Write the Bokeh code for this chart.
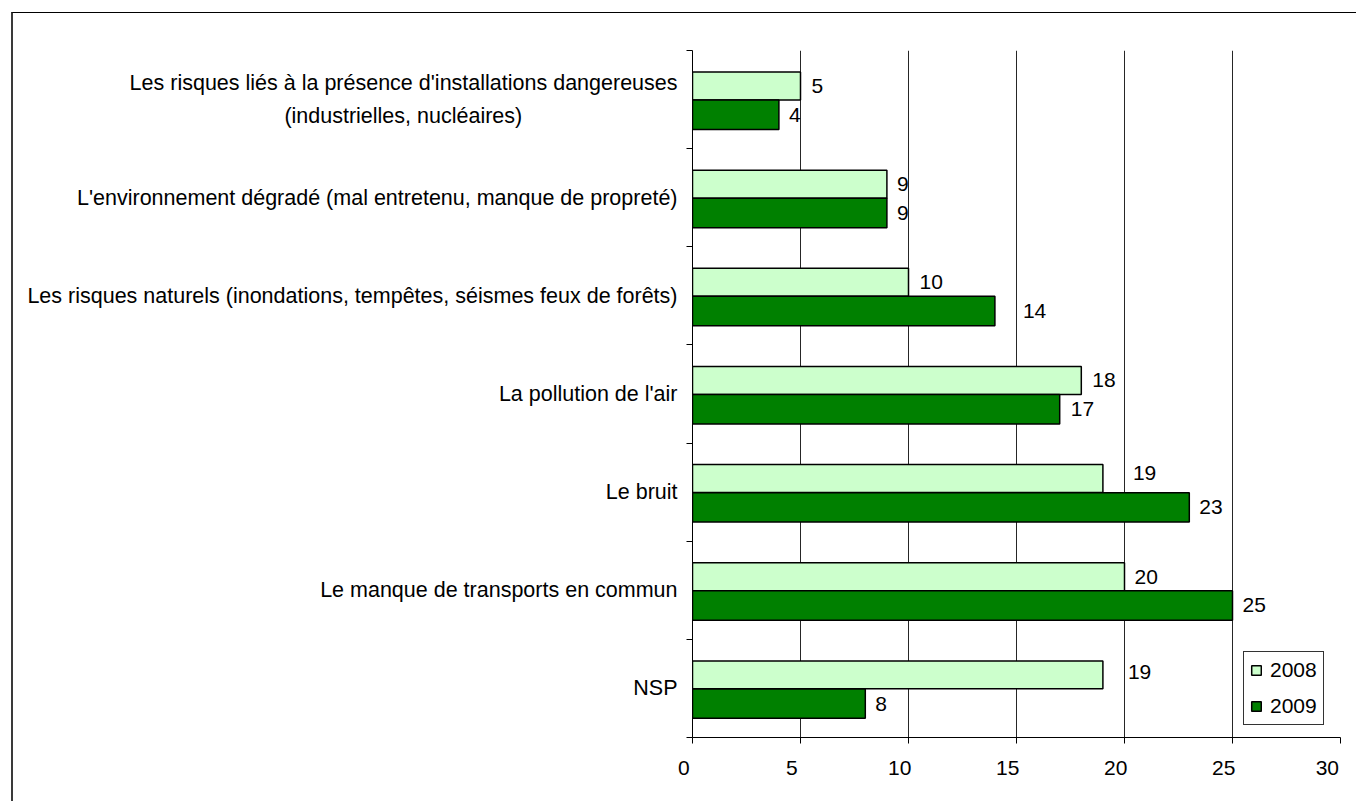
from bokeh.plotting import figure
from bokeh.models import (ColumnDataSource, FactorRange, Range1d, LinearAxis, CategoricalAxis,
                          FixedTicker, Legend, LegendItem, CustomLabelingPolicy)
from bokeh.transform import dodge
from bokeh.core.properties import value
from bokeh.embed import file_html
from bokeh.resources import INLINE

# ---------------- data ----------------
categories = [
    "Les risques liés à la présence d'installations dangereuses\n(industrielles, nucléaires)",
    "L'environnement dégradé (mal entretenu, manque de propreté)",
    "Les risques naturels (inondations, tempêtes, séismes feux de forêts)",
    "La pollution de l'air",
    "Le bruit",
    "Le manque de transports en commun",
    "NSP",
]
values_2008 = [5, 9, 10, 18, 19, 20, 19]
values_2009 = [4, 9, 14, 17, 23, 25, 8]
years = ["2008", "2009"]
x_ticks = [0, 5, 10, 15, 20, 25, 30]

# label placement styling (screen px)
dx_2008 = [11, 10, 11, 11, 30, 10, 25]
dy_2008 = [0, 0, 0, 0, -6, 0, -3]
dx_2009 = [10, 10, 28, 11, 10, 10, 10]
dy_2009 = [0, 0, 0, 0, 0, 0, 0]

FONT = "Liberation Sans"
LIGHT = "#CCFFCC"
DARK = "#008000"
NBSP = "\u00a0"


def centred(label, pad=26):
    # pad the second line so that it appears centred under the first (axis labels are right-aligned)
    if "\n" not in label:
        return label
    first, second = label.split("\n")
    return first + "\n" + second + NBSP * pad


factors = [centred(c) for c in categories]

src = ColumnDataSource(dict(
    cat=factors,
    v2008=values_2008, v2009=values_2009,
    t2008=[str(v) for v in values_2008], t2009=[str(v) for v in values_2009],
    dx08=dx_2008, dy08=dy_2008, dx09=dx_2009, dy09=dy_2009,
))

p = figure(
    frame_width=648, frame_height=687,
    x_range=Range1d(0, 30),
    y_range=FactorRange(factors=factors[::-1]),
    y_axis_location=None,
    output_backend="svg", toolbar_location=None,
    min_border_left=679, min_border_right=16, min_border_top=37, min_border_bottom=64,
)
p.outline_line_color = None
p.background_fill_color = "white"
p.border_fill_color = "white"
# outer chart border: only its top and left edges fall inside the window
p.styles = {"margin-left": "11px", "margin-top": "12px",
            "border-left": "2px solid #3a3a3a", "border-top": "1px solid #000000"}

# x axis
xa = p.xaxis[0]
xa.ticker = FixedTicker(ticks=x_ticks)
xa.major_tick_out = 6
xa.major_tick_in = 0
xa.minor_tick_line_color = None
xa.axis_line_color = "black"
xa.major_tick_line_color = "black"
xa.major_label_text_font = FONT
xa.major_label_text_font_size = "21px"
xa.major_label_text_color = "black"
xa.major_label_standoff = 12
# labels sit slightly left of their ticks in the original
xa.major_label_overrides = {t: str(t) + NBSP * 3 for t in x_ticks}

p.xgrid.ticker = FixedTicker(ticks=x_ticks)
p.xgrid.grid_line_color = "black"
p.xgrid.grid_line_alpha = 0.85
p.xgrid.grid_line_width = 1
p.ygrid.grid_line_color = None

# y axis: ticks between categories (synthetic boundaries), then category labels
tick_axis = LinearAxis(
    ticker=FixedTicker(ticks=list(range(len(categories) + 1))),
    major_label_policy=CustomLabelingPolicy(code="for (const i of indices) indices.unset(i); return indices"),
    major_label_text_font_size="0px",
    major_label_standoff=0,
    major_tick_out=6, major_tick_in=0,
    minor_tick_line_color=None,
    axis_line_color="black", major_tick_line_color="black",
)
p.add_layout(tick_axis, "left")
cat_axis = CategoricalAxis(
    axis_line_color=None, major_tick_line_color=None, major_tick_out=0, major_tick_in=0,
    major_label_standoff=9,
    major_label_text_font=FONT, major_label_text_font_size="21.5px",
    major_label_text_color="black", major_label_text_line_height=1.4,
)
p.add_layout(cat_axis, "left")

# bars
r1 = p.hbar(y=dodge("cat", 0.138, range=p.y_range), left=0, right="v2008", height=0.285,
            fill_color=LIGHT, line_color="black", line_width=1.5, source=src)
r2 = p.hbar(y=dodge("cat", -0.155, range=p.y_range), left=0, right="v2009", height=0.30,
            fill_color=DARK, line_color="black", line_width=1.5, source=src)

# value labels
p.text(x="v2008", y=dodge("cat", 0.138, range=p.y_range), text="t2008", x_offset="dx08", y_offset="dy08",
       text_font=value(FONT), text_font_size="21px", text_color="black",
       text_align="left", text_baseline="middle", source=src)
p.text(x="v2009", y=dodge("cat", -0.155, range=p.y_range), text="t2009", x_offset="dx09", y_offset="dy09",
       text_font=value(FONT), text_font_size="21px", text_color="black",
       text_align="left", text_baseline="middle", source=src)

legend = Legend(
    items=[LegendItem(label=years[0], renderers=[r1]), LegendItem(label=years[1], renderers=[r2])],
    location=(551, 12), margin=0, padding=6, spacing=12,
    glyph_width=12, glyph_height=12, label_standoff=8, label_height=20,
    label_text_font=FONT, label_text_font_size="21px", label_text_color="black",
    border_line_color="black", border_line_alpha=0.8, border_line_width=1,
    background_fill_color="white", background_fill_alpha=1.0,
)
p.add_layout(legend)

open("out.html", "w").write(file_html(p, INLINE))
